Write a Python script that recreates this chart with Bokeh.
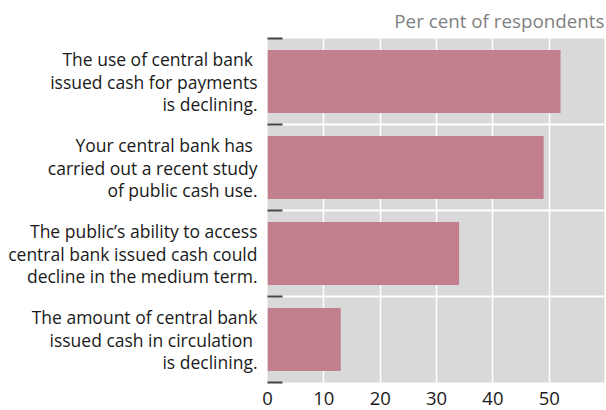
from bokeh.plotting import figure
from bokeh.models import FixedTicker, Range1d
from bokeh.embed import file_html
from bokeh.resources import INLINE

categories = [
    "The use of central bank\u00a0\nissued cash for payments\nis declining.",
    "Your central bank has\u00a0\ncarried out a recent study\nof public cash use.",
    "The public\u2019s ability to access\ncentral bank issued cash could\ndecline in the medium term.",
    "The amount of central bank\nissued cash in circulation\u00a0\nis declining.",
]
values = [52, 49, 34, 13]
x_ticks = [0, 10, 20, 30, 40, 50]
unit_label = "Per cent of respondents"

n = len(categories)
ypos = [n - 1 - i for i in range(n)]

FONT = "Open Sans"

p = figure(width=606, height=410, output_backend="svg", toolbar_location=None,
           x_range=Range1d(0, 59.8), y_range=Range1d(-0.5, n - 0.5),
           min_border_left=267, min_border_right=2, min_border_top=37, min_border_bottom=28,
           title=unit_label)

p.background_fill_color = "#d9d9d9"
p.border_fill_color = "white"
p.outline_line_color = None

p.title.align = "right"
p.title.text_font = FONT
p.title.text_font_size = "18.8px"
p.title.text_font_style = "normal"
p.title.text_color = "#808080"

p.hbar(y=ypos, right=values, left=0, height=0.73, color="#c2808f", line_color=None)

# x axis
p.xaxis.ticker = FixedTicker(ticks=x_ticks)
p.xaxis.axis_line_color = None
p.xaxis.major_tick_line_color = None
p.xaxis.minor_tick_line_color = None
p.xaxis.major_label_text_font = FONT
p.xaxis.major_label_text_font_size = "18.5px"
p.xaxis.major_label_text_color = "#1a1a1a"
p.xaxis.major_label_standoff = 3

p.xgrid.grid_line_color = "white"
p.xgrid.grid_line_width = 1.5

# y axis
boundaries = [i - 0.5 for i in range(n + 1)]
p.yaxis.ticker = FixedTicker(ticks=ypos, minor_ticks=boundaries)
p.yaxis.major_label_overrides = {y: c for y, c in zip(ypos, categories)}
p.yaxis.axis_line_color = None
p.yaxis.major_tick_line_color = None
p.yaxis.minor_tick_line_color = "#444444"
p.yaxis.minor_tick_line_width = 2
p.yaxis.minor_tick_in = 15
p.yaxis.minor_tick_out = 0
p.yaxis.major_label_text_font = FONT
p.yaxis.major_label_text_font_size = "17.5px"
p.yaxis.major_label_text_color = "#1a1a1a"
p.yaxis.major_label_text_align = "right"
p.yaxis.major_label_text_line_height = 0.94
p.yaxis.major_label_standoff = 4

p.ygrid.grid_line_color = None
p.ygrid.minor_grid_line_color = "white"
p.ygrid.minor_grid_line_width = 2

open("out.html", "w").write(file_html(p, INLINE))
